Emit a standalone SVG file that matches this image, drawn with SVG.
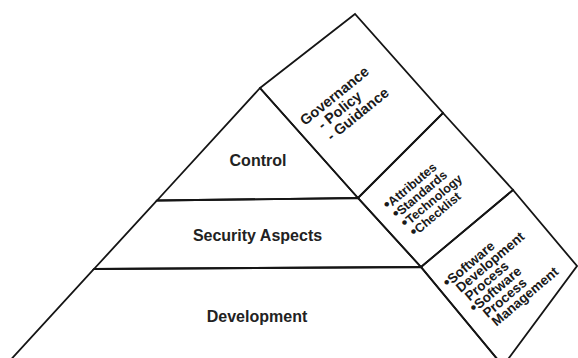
<svg xmlns="http://www.w3.org/2000/svg" width="578" height="358" viewBox="0 0 578 358">
<style>
.shape{fill:none;stroke:#151515;stroke-width:1.8;stroke-linejoin:miter}
.lbl{font-family:"Liberation Sans",Arial,sans-serif;font-weight:bold;font-size:16px;fill:#222;text-anchor:middle}
.rt{font-family:"Liberation Sans",Arial,sans-serif;font-weight:bold;fill:#1a1a1a}
.b{font-size:16px}
</style>
<rect width="578" height="358" fill="#fff"/>
<g id="connectors"></g>
<g id="layer-control">
<polygon class="shape" points="260,88 157,200.5 358,198"/>
<text class="lbl" x="258" y="166">Control</text>
</g>
<g id="layer-security">
<polygon class="shape" points="157,200.5 358,198 421,267 94,269"/>
<text class="lbl" x="257.5" y="241">Security Aspects</text>
</g>
<g id="layer-development">
<polygon class="shape" points="94,269 421,267 503,366 5,366"/>
<text class="lbl" x="257" y="322">Development</text>
</g>
<g id="box-governance">
<polygon class="shape" points="260,88 355,14 443,113 358,198"/>
<g transform="translate(305,126) rotate(-39)" class="rt" font-size="14.5">
<text x="0" y="0">Governance</text>
<text x="11" y="14.5">- Policy</text>
<text x="11" y="29">- Guidance</text>
</g>
</g>
<g id="box-attributes">
<polygon class="shape" points="358,198 443,113 513,190 421,267"/>
<g transform="translate(388,210) rotate(-40)" class="rt" font-size="12.5">
<text x="0" y="0"><tspan class="b">•</tspan>Attributes</text>
<text x="1" y="12.7"><tspan class="b">•</tspan>Standards</text>
<text x="2" y="25.4"><tspan class="b">•</tspan>Technology</text>
<text x="3" y="38.1"><tspan class="b">•</tspan>Checklist</text>
</g>
</g>
<g id="box-software">
<polygon class="shape" points="421,267 513,190 577,266 503,366"/>
<g transform="translate(448,288) rotate(-40.5)" class="rt" font-size="13.5">
<text x="0" y="0"><tspan class="b">•</tspan>Software</text>
<text x="6.5" y="12.2">Development</text>
<text x="7.8" y="24.4">Process</text>
<text x="4" y="36.6"><tspan class="b">•</tspan>Software</text>
<text x="10.5" y="48.8">Process</text>
<text x="11.8" y="61">Management</text>
</g>
</g>
</svg>
